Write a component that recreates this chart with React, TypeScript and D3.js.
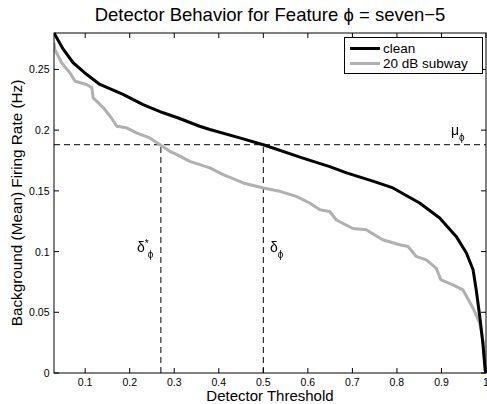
import React from "react";
import * as d3 from "d3";

const cleanX = [0.03, 0.051, 0.073, 0.103, 0.133, 0.185, 0.23, 0.275, 0.309, 0.357, 0.38, 0.447, 0.5, 0.589, 0.649, 0.687, 0.746, 0.791, 0.851, 0.896, 0.933, 0.956, 0.971, 0.978, 0.986, 0.993, 0.998, 1];
const cleanY = [0.28, 0.2665, 0.2555, 0.246, 0.2376, 0.2294, 0.221, 0.2143, 0.21, 0.2032, 0.2005, 0.1936, 0.188, 0.177, 0.17, 0.1648, 0.158, 0.1524, 0.14, 0.1276, 0.1125, 0.0988, 0.085, 0.0685, 0.0465, 0.0245, 0.0025, 0];

const noisyX = [0.03, 0.032, 0.047, 0.066, 0.077, 0.103, 0.115, 0.118, 0.141, 0.159, 0.171, 0.193, 0.215, 0.245, 0.268, 0.29, 0.305, 0.335, 0.38, 0.41, 0.455, 0.5, 0.537, 0.574, 0.604, 0.627, 0.649, 0.664, 0.701, 0.731, 0.768, 0.806, 0.825, 0.843, 0.866, 0.888, 0.899, 0.926, 0.948, 0.971, 0.986, 0.993, 0.999, 1];
const noisyY = [0.272, 0.2665, 0.2555, 0.247, 0.2404, 0.2376, 0.235, 0.2266, 0.2184, 0.21, 0.2032, 0.2019, 0.1978, 0.1936, 0.188, 0.1826, 0.18, 0.1743, 0.1689, 0.1634, 0.1565, 0.1524, 0.1496, 0.1455, 0.14, 0.1345, 0.133, 0.126, 0.119, 0.118, 0.1097, 0.1056, 0.1042, 0.096, 0.0932, 0.0864, 0.0767, 0.0726, 0.0685, 0.0534, 0.041, 0.027, 0.0025, 0];

const xTicks = [0.1, 0.2, 0.3, 0.4, 0.5, 0.6, 0.7, 0.8, 0.9, 1];
const xTickLabels = ["0.1", "0.2", "0.3", "0.4", "0.5", "0.6", "0.7", "0.8", "0.9", "1"];
const yTicks = [0, 0.05, 0.1, 0.15, 0.2, 0.25];
const yTickLabels = ["0", "0.05", "0.1", "0.15", "0.2", "0.25"];

const mu = 0.188;
const deltaStar = 0.27;
const delta = 0.5;

const seriesNames = ["clean", "20 dB subway"];
const seriesColors = ["#000000", "#b0b0b0"];

const FONT = "'Liberation Sans', Arial, Helvetica, sans-serif";

export default function App() {
  const W = 487, H = 404;
  const L = 54, R = 486, T = 33, B = 373;
  const x = d3.scaleLinear().domain([0.03, 1]).range([L, R]);
  const y = d3.scaleLinear().domain([0, 0.28]).range([B, T]);
  const line = d3.line<[number, number]>().x(d => x(d[0])).y(d => y(d[1]));
  const cleanPts = cleanX.map((v, i) => [v, cleanY[i]] as [number, number]);
  const noisyPts = noisyX.map((v, i) => [v, noisyY[i]] as [number, number]);
  const tl = 5;

  return (
    <svg width={W} height={H} style={{ position: "absolute", left: 0, top: 0, background: "#fff" }} fontFamily={FONT}>
      <defs>
        <clipPath id="plotclip"><rect x={L} y={T - 2} width={R - L + 1} height={B - T + 3} /></clipPath>
        <filter id="mono" x="-20%" y="-50%" width="140%" height="200%">
          <feColorMatrix type="saturate" values="0" />
        </filter>
      </defs>
      <rect x={0} y={0} width={W} height={H} fill="#fff" />
      <text x={(L + R) / 2} y={21} textAnchor="middle" fontSize={18.5}>Detector Behavior for Feature ϕ = seven−5</text>

      <line x1={L} x2={R} y1={y(mu)} y2={y(mu)} stroke="#000" strokeWidth={1} strokeDasharray="6,4" />
      <line x1={x(deltaStar)} x2={x(deltaStar)} y1={B} y2={y(mu)} stroke="#000" strokeWidth={1} strokeDasharray="6,4" />
      <line x1={x(delta)} x2={x(delta)} y1={B} y2={y(mu)} stroke="#000" strokeWidth={1} strokeDasharray="6,4" />

      <g clipPath="url(#plotclip)">
        <path d={line(noisyPts) || ""} fill="none" stroke={seriesColors[1]} strokeWidth={3} strokeLinejoin="round" />
        <path d={line(cleanPts) || ""} fill="none" stroke={seriesColors[0]} strokeWidth={3} strokeLinejoin="round" />
      </g>

      <rect x={L} y={T} width={R - L} height={B - T} fill="none" stroke="#000" strokeWidth={1} />
      {xTicks.map((t, i) => (
        <g key={"x" + i}>
          <line x1={x(t)} x2={x(t)} y1={B} y2={B - tl} stroke="#000" />
          <line x1={x(t)} x2={x(t)} y1={T} y2={T + tl} stroke="#000" />
          <text x={x(t)} y={386} textAnchor="middle" fontSize={10.5}>{xTickLabels[i]}</text>
        </g>
      ))}
      {yTicks.map((t, i) => (
        <g key={"y" + i}>
          <line x1={L} x2={L + tl} y1={y(t)} y2={y(t)} stroke="#000" />
          <line x1={R} x2={R - tl} y1={y(t)} y2={y(t)} stroke="#000" />
          <text x={49.5} y={y(t) + 4} textAnchor="end" fontSize={10.5}>{yTickLabels[i]}</text>
        </g>
      ))}

      <text x={(L + R) / 2} y={401} textAnchor="middle" fontSize={15}>Detector Threshold</text>
      <text transform={`translate(22,${(T + B) / 2}) rotate(-90)`} textAnchor="middle" fontSize={15.3}>Background (Mean) Firing Rate (Hz)</text>

      <g fill="#000" filter="url(#mono)">
        <text x={137} y={251.5} fontSize={14}>δ<tspan fontSize={10} dy={-5}>*</tspan><tspan fontSize={10} dx={-1} dy={11}>ϕ</tspan></text>
        <text x={270} y={251.5} fontSize={14}>δ<tspan fontSize={10} dy={6}>ϕ</tspan></text>
        <text x={451} y={135} fontSize={14}>μ<tspan fontSize={10} dy={6}>ϕ</tspan></text>
      </g>

      <rect x={344.5} y={37.5} width={138} height={36} fill="#fff" stroke="#000" strokeWidth={1} />
      {seriesNames.map((n, i) => (
        <g key={"l" + i}>
          <line x1={350} x2={380} y1={48.5 + i * 15} y2={48.5 + i * 15} stroke={seriesColors[i]} strokeWidth={3} />
          <text x={383} y={53 + i * 15} fontSize={13.5}>{n}</text>
        </g>
      ))}
    </svg>
  );
}
